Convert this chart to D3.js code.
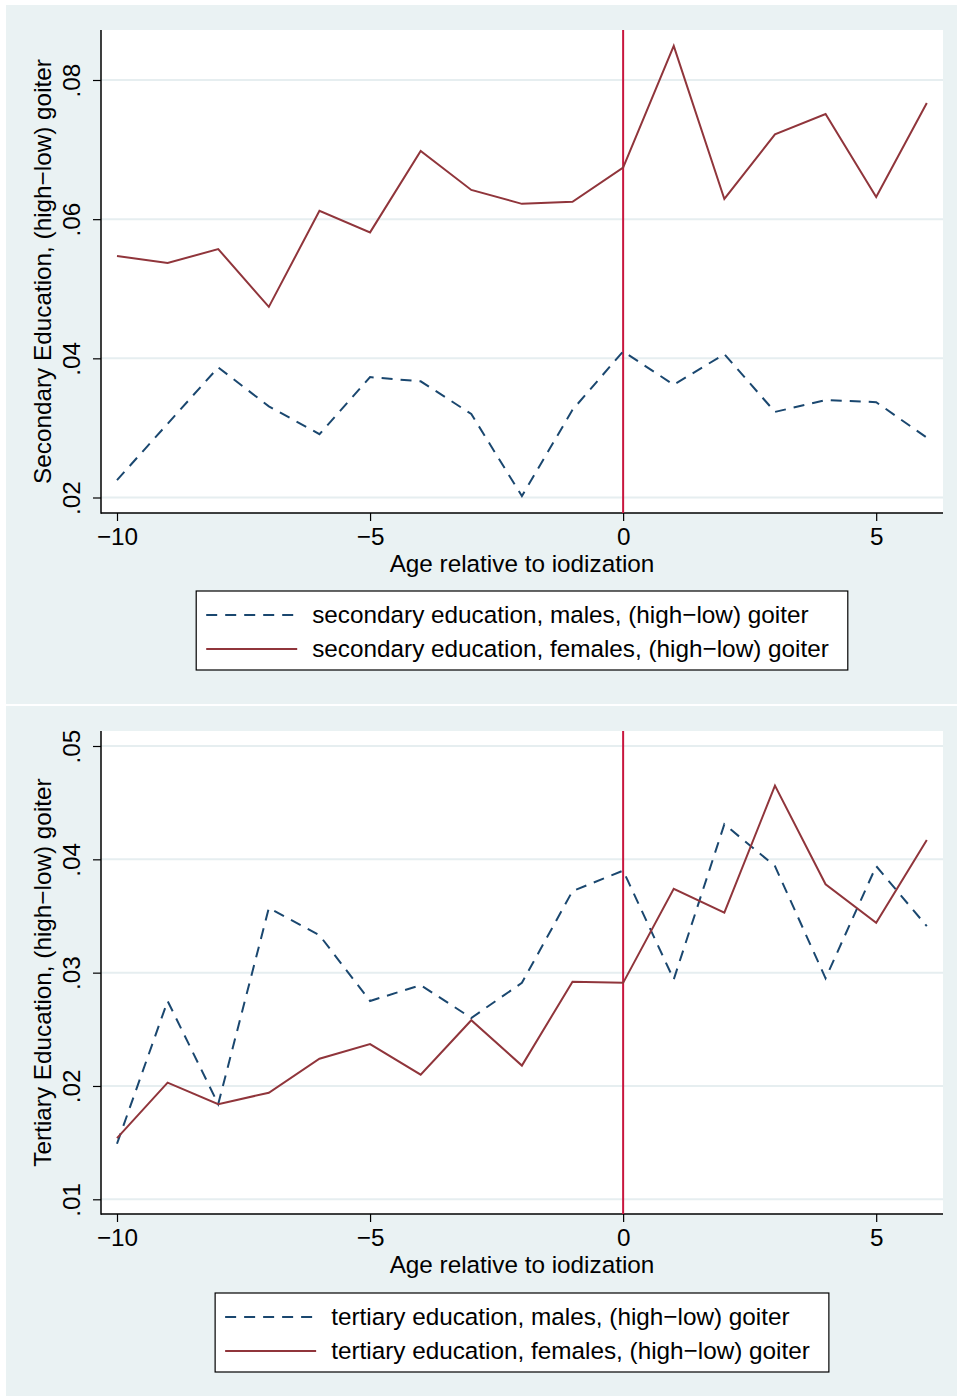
<!DOCTYPE html>
<html>
<head>
<meta charset="utf-8">
<script src="https://cdn.jsdelivr.net/npm/d3@7"></script>
<style>
  html, body { margin: 0; padding: 0; background: #ffffff; }
  svg { display: block; }
  text { font-family: "Liberation Sans", Arial, sans-serif; fill: #000; }
</style>
</head>
<body>
<svg id="chart" width="957" height="1397"></svg>
<script>
// Age relative to iodization (x axis)
const ages = [-10, -9, -8, -7, -6, -5, -4, -3, -2, -1, 0, 1, 2, 3, 4, 5, 6];
const xTicks = [-10, -5, 0, 5];

// Secondary education, (high-low) goiter
const secondaryMales   = [0.0225, 0.0306, 0.0387, 0.0331, 0.0291, 0.0373, 0.0367, 0.0320, 0.0202, 0.0326, 0.0410, 0.0362, 0.0406, 0.0323, 0.0340, 0.0337, 0.0286];
const secondaryFemales = [0.0547, 0.0537, 0.0557, 0.0474, 0.0612, 0.0581, 0.0698, 0.0642, 0.0622, 0.0625, 0.0674, 0.0849, 0.0629, 0.0722, 0.0751, 0.0632, 0.0767];
const secondaryTicks = [0.02, 0.04, 0.06, 0.08];

// Tertiary education, (high-low) goiter
const tertiaryMales   = [0.0149, 0.0275, 0.0184, 0.0357, 0.0333, 0.0275, 0.0289, 0.0260, 0.0291, 0.0372, 0.0390, 0.0294, 0.0431, 0.0394, 0.0295, 0.0394, 0.0341];
const tertiaryFemales = [0.0154, 0.0203, 0.0184, 0.0194, 0.0224, 0.0237, 0.0210, 0.0258, 0.0218, 0.0292, 0.0291, 0.0374, 0.0353, 0.0465, 0.0378, 0.0344, 0.0417];
const tertiaryTicks = [0.01, 0.02, 0.03, 0.04, 0.05];

const xLabel = "Age relative to iodization";

const panels = [
  {
    top: 5, height: 699,
    plot: { x0: 101, x1: 943, y0: 30, y1: 513 },
    yDomain: [0.02, 0.08], yRange: [497.5, 80],
    yTicks: secondaryTicks,
    yTitle: "Secondary Education, (high\u2212low) goiter",
    males: secondaryMales, females: secondaryFemales,
    legendMales: "secondary education, males, (high\u2212low) goiter",
    legendFemales: "secondary education, females, (high\u2212low) goiter",
    legendTop: 591
  },
  {
    top: 706, height: 690,
    plot: { x0: 101, x1: 943, y0: 731, y1: 1214 },
    yDomain: [0.01, 0.05], yRange: [1199.3, 746],
    yTicks: tertiaryTicks,
    yTitle: "Tertiary Education, (high\u2212low) goiter",
    males: tertiaryMales, females: tertiaryFemales,
    legendMales: "tertiary education, males, (high\u2212low) goiter",
    legendFemales: "tertiary education, females, (high\u2212low) goiter",
    legendTop: 1293
  }
];

const C = {
  bg: "#eaf2f3",
  grid: "#e6eef0",
  male: "#1a476f",
  female: "#90353b",
  vline: "#c8163e"
};
const FONT = 24.3;
const fmtTick = v => d3.format(".2f")(v).replace(/^0/, "");
const fmtX = v => (v < 0 ? "\u2212" + Math.abs(v) : String(v));

const svg = d3.select("#chart");

panels.forEach(p => {
  const g = svg.append("g");
  const P = p.plot;

  g.append("rect").attr("x", 6).attr("y", p.top).attr("width", 951).attr("height", p.height)
    .attr("fill", C.bg);
  g.append("rect").attr("x", P.x0).attr("y", P.y0).attr("width", P.x1 - P.x0).attr("height", P.y1 - P.y0)
    .attr("fill", "#ffffff");

  const x = d3.scaleLinear().domain([-10, 6]).range([117, 926.8]);
  const y = d3.scaleLinear().domain(p.yDomain).range(p.yRange);

  // horizontal gridlines
  g.append("g").selectAll("line").data(p.yTicks).join("line")
    .attr("x1", P.x0).attr("x2", P.x1)
    .attr("y1", d => y(d)).attr("y2", d => y(d))
    .attr("stroke", C.grid).attr("stroke-width", 2);

  // y axis
  const ya = g.append("g").attr("transform", `translate(${P.x0},0)`)
    .call(d3.axisLeft(y).tickValues(p.yTicks).tickFormat(fmtTick).tickSize(8).tickSizeOuter(0));
  ya.select(".domain").remove();
  ya.selectAll(".tick line").attr("stroke", "#000").attr("stroke-width", 1.2);
  ya.selectAll(".tick text")
    .attr("transform", "rotate(-90)")
    .attr("x", 0).attr("y", -21).attr("dy", null)
    .attr("text-anchor", "middle")
    .style("font-size", FONT + "px")
    .style("font-family", "Liberation Sans, Arial, sans-serif")
    .attr("fill", "#000");

  // x axis
  const xa = g.append("g").attr("transform", `translate(0,${P.y1})`)
    .call(d3.axisBottom(x).tickValues(xTicks).tickFormat(fmtX).tickSize(8).tickSizeOuter(0));
  xa.select(".domain").remove();
  xa.selectAll(".tick line").attr("stroke", "#000").attr("stroke-width", 1.2);
  xa.selectAll(".tick text")
    .attr("y", 32).attr("dy", null)
    .style("font-size", FONT + "px")
    .style("font-family", "Liberation Sans, Arial, sans-serif")
    .attr("fill", "#000");

  // axis lines
  g.append("line").attr("x1", P.x0).attr("x2", P.x0).attr("y1", P.y0).attr("y2", P.y1 + 0.75)
    .attr("stroke", "#000").attr("stroke-width", 1.5);
  g.append("line").attr("x1", P.x0).attr("x2", P.x1).attr("y1", P.y1).attr("y2", P.y1)
    .attr("stroke", "#000").attr("stroke-width", 1.5);

  // axis titles
  g.append("text")
    .attr("transform", `translate(51,${(P.y0 + P.y1) / 2}) rotate(-90)`)
    .attr("text-anchor", "middle").style("font-size", FONT + "px")
    .text(p.yTitle);
  g.append("text")
    .attr("x", (P.x0 + P.x1) / 2).attr("y", P.y1 + 59)
    .attr("text-anchor", "middle").style("font-size", FONT + "px")
    .text(xLabel);

  // iodization marker at age 0
  g.append("line").attr("x1", x(0)).attr("x2", x(0)).attr("y1", P.y0).attr("y2", P.y1)
    .attr("stroke", C.vline).attr("stroke-width", 2);

  const line = d3.line().x((d, i) => x(ages[i])).y(d => y(d));

  g.append("path").datum(p.males).attr("d", line)
    .attr("fill", "none").attr("stroke", C.male).attr("stroke-width", 2)
    .attr("stroke-dasharray", "11 8");
  g.append("path").datum(p.females).attr("d", line)
    .attr("fill", "none").attr("stroke", C.female).attr("stroke-width", 2)
    .attr("stroke-linejoin", "miter");

  // legend
  const lg = g.append("g");
  const box = lg.append("rect").attr("fill", "#fff").attr("stroke", "#000").attr("stroke-width", 1.2);
  const entries = [
    { label: p.legendMales, color: C.male, dash: "11 8" },
    { label: p.legendFemales, color: C.female, dash: null }
  ];
  let maxW = 0;
  const texts = [];
  entries.forEach((e, i) => {
    const cy = p.legendTop + 24 + i * 34;
    lg.append("line").attr("class", "sample")
      .attr("y1", cy).attr("y2", cy)
      .attr("stroke", e.color).attr("stroke-width", 2)
      .attr("stroke-dasharray", e.dash);
    const t = lg.append("text").attr("y", cy + 8).style("font-size", FONT + "px").text(e.label);
    texts.push(t);
    maxW = Math.max(maxW, t.node().getComputedTextLength());
  });
  const boxW = 10 + 91 + 15 + maxW + 19;
  const bx = (P.x0 + P.x1) / 2 - boxW / 2;
  box.attr("x", bx).attr("y", p.legendTop).attr("width", boxW).attr("height", 79);
  lg.selectAll("line.sample").attr("x1", bx + 10).attr("x2", bx + 101);
  texts.forEach(t => t.attr("x", bx + 116));
});
</script>
</body>
</html>
